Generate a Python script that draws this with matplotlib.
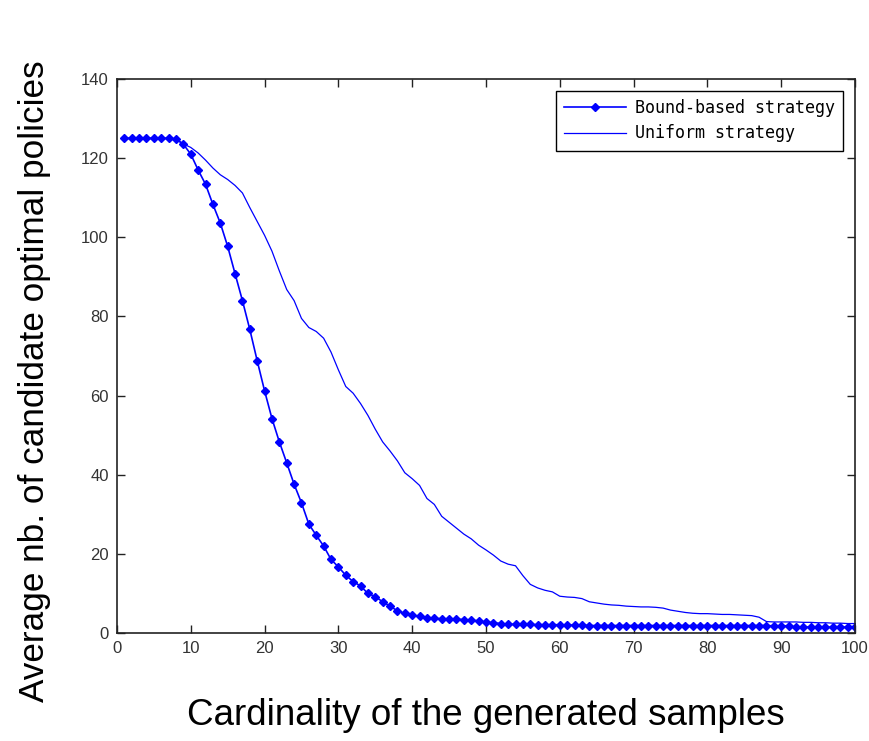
import matplotlib.pyplot as plt
import numpy as np

# cardinality of the generated samples
x = np.arange(1, 101)

bound_based = [125, 125, 125, 125, 125, 125, 125, 124.8, 123.5, 121,
               117, 113.4, 108.3, 103.6, 97.7, 90.8, 84, 76.7, 68.8, 61.2,
               54.2, 48.3, 43, 37.6, 32.9, 27.5, 24.7, 22, 18.6, 16.7,
               14.6, 13, 11.9, 10, 9.2, 7.9, 6.8, 5.6, 5, 4.5,
               4.2, 3.8, 3.7, 3.6, 3.6, 3.5, 3.4, 3.2, 3.1, 2.7,
               2.6, 2.4, 2.2, 2.2, 2.2, 2.2, 2.1, 2.1, 2.1, 2.1,
               2.0, 2.0, 2.0, 1.9, 1.9, 1.9, 1.9, 1.9, 1.9, 1.9,
               1.9, 1.9, 1.9, 1.9, 1.9, 1.9, 1.9, 1.9, 1.9, 1.9,
               1.9, 1.9, 1.9, 1.9, 1.9, 1.9, 1.9, 1.9, 1.8, 1.8,
               1.8, 1.5, 1.5, 1.5, 1.5, 1.5, 1.5, 1.5, 1.5, 1.5]

uniform = [125, 125, 125, 125, 125, 125, 125, 124.8, 123.6, 122.7,
           121.3, 119.5, 117.5, 115.8, 114.6, 113.1, 111.2, 107.5, 104, 100.5,
           96.5, 91.5, 86.8, 84, 79.5, 77.2, 76.2, 74.5, 71, 66.5,
           62.3, 60.6, 58, 55, 51.5, 48.3, 46, 43.5, 40.5, 39,
           37.3, 34, 32.5, 29.5, 28, 26.5, 25, 23.8, 22.2, 21,
           19.7, 18.2, 17.4, 17, 14.5, 12.3, 11.4, 10.8, 10.4, 9.3,
           9.1, 9.0, 8.7, 7.9, 7.6, 7.3, 7.1, 7.0, 6.8, 6.7,
           6.6, 6.6, 6.5, 6.3, 5.8, 5.5, 5.2, 5.0, 4.9, 4.9,
           4.8, 4.7, 4.7, 4.6, 4.5, 4.4, 4.0, 2.9, 2.8, 2.8,
           2.8, 2.8, 2.7, 2.7, 2.6, 2.6, 2.5, 2.5, 2.4, 2.4]

xticks = list(range(0, 101, 10))
yticks = list(range(0, 141, 20))

fig = plt.figure(figsize=(8.69, 7.41), dpi=100)
ax = fig.add_axes([0.1346, 0.1457, 0.8493, 0.7477])

ax.plot(x, bound_based, color='blue', linewidth=1.2, marker='D', markersize=4.5,
        label='Bound-based strategy')
ax.plot(x, uniform, color='blue', linewidth=0.9, label='Uniform strategy')

ax.set_xlim(0, 100)
ax.set_ylim(0, 140)
ax.set_xticks(xticks)
ax.set_yticks(yticks)
ax.tick_params(direction='in', top=True, right=True, length=6, width=1,
               colors='#222222', pad=6)
for s in ax.spines.values():
    s.set_linewidth(1.2)
    s.set_color('#222222')
for lab in ax.get_xticklabels() + ax.get_yticklabels():
    lab.set_family('Liberation Sans')
    lab.set_fontsize(12)
    lab.set_color('#333333')

ax.set_xlabel('Cardinality of the generated samples', fontsize=26.5,
              family='Liberation Sans', labelpad=30)
ax.set_ylabel('Average nb. of candidate optimal policies', fontsize=25.3,
              family='Liberation Sans')
# label sits a little below the axes centre in the original
ax.yaxis.set_label_coords(-0.09, 0.455)

leg = ax.legend(loc='upper right', prop={'family': 'DejaVu Sans Mono', 'size': 12},
                fancybox=False, edgecolor='black', framealpha=1,
                borderaxespad=0.7, handlelength=3.7, handletextpad=0.55,
                labelspacing=0.45, borderpad=0.5, markerscale=0.8)
leg.get_frame().set_linewidth(1.0)

fig.savefig('out.png', dpi=100)
